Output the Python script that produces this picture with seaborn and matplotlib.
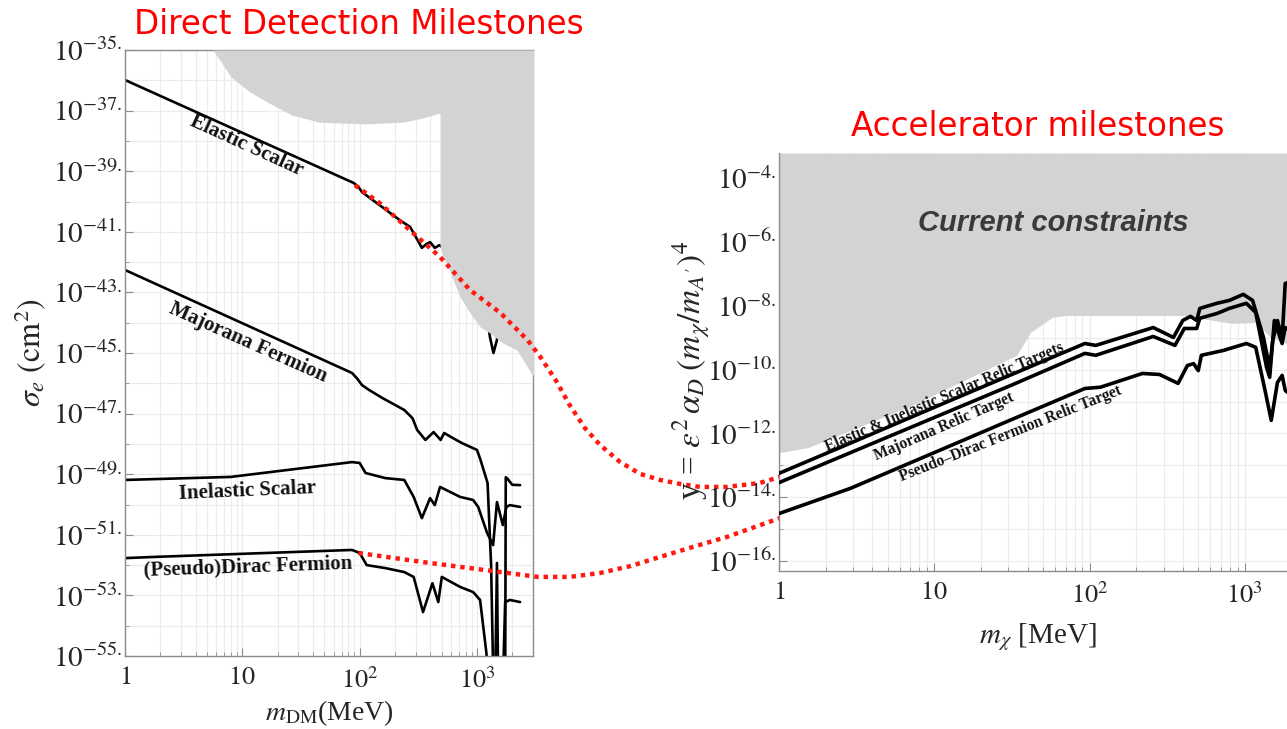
import numpy as np
import matplotlib
matplotlib.use("Agg")
import matplotlib.pyplot as plt
from matplotlib.ticker import FixedLocator, NullFormatter
import seaborn as sns

# ---------------- data (log10 values) ----------------
# Left panel: direct detection, log10(m_DM / MeV) and log10(sigma_e / cm^2)
dd_elastic_logm = [0, 1.95, 1.99, 2.02, 2.10, 2.17, 2.34, 2.43, 2.47, 2.53, 2.57, 2.60, 2.64, 2.68, 2.86, 2.98, 3.05, 3.09, 3.11, 3.14, 3.17, 3.20, 3.30]
dd_elastic_logs = [-35.99, -39.39, -39.52, -39.69, -39.92, -40.12, -40.61, -40.84, -41.11, -41.53, -41.40, -41.34, -41.53, -41.44, -42.0, -42.2, -42.9, -43.9, -44.47, -45.0, -44.57, -43.0, -42.5]

dd_major_logm = [0, 1.935, 1.98, 2.02, 2.08, 2.20, 2.38, 2.45, 2.49, 2.56, 2.63, 2.69, 2.72, 2.80, 2.87, 3.0, 3.03, 3.09, 3.12, 3.14, 3.20, 3.24, 3.245, 3.26, 3.30, 3.367]
dd_major_logs = [-42.26, -45.66, -45.85, -46.06, -46.22, -46.50, -46.88, -47.15, -47.54, -47.87, -47.61, -47.87, -47.64, -47.82, -47.97, -48.20, -48.53, -49.29, -52.0, -56.0, -56.0, -56.0, -49.1, -49.15, -49.35, -49.36]

dd_inel_logm = [0, 0.90, 1.935, 2.0, 2.05, 2.22, 2.38, 2.46, 2.53, 2.60, 2.64, 2.685, 2.856, 2.967, 3.01, 3.086, 3.137, 3.17, 3.22, 3.25, 3.28, 3.367]
dd_inel_logs = [-49.19, -49.09, -48.60, -48.63, -48.96, -49.13, -49.19, -49.75, -50.45, -49.79, -50.02, -49.42, -49.75, -49.85, -50.08, -50.94, -51.34, -49.92, -50.68, -50.08, -50.02, -50.08]

dd_dirac_logm = [0, 0.25, 1.935, 2.0, 2.06, 2.22, 2.38, 2.46, 2.54, 2.62, 2.67, 2.70, 2.856, 2.967, 3.026, 3.08, 3.10, 3.154, 3.17, 3.18, 3.22, 3.24, 3.28, 3.367]
dd_dirac_logs = [-51.77, -51.73, -51.50, -51.60, -52.0, -52.1, -52.23, -52.39, -53.55, -52.6, -53.22, -52.39, -52.72, -52.89, -53.15, -54.9, -56, -56, -51.93, -56, -56, -53.22, -53.15, -53.22]

dd_gray_logm = [0.75, 0.904, 1.066, 1.228, 1.424, 1.654, 2.046, 2.378, 2.54, 2.685, 2.685, 2.71, 2.754, 2.796, 2.856, 2.924, 3.026, 3.11, 3.22, 3.34, 3.43, 3.46, 3.50]
dd_gray_logs = [-35.0, -35.89, -36.39, -36.75, -37.15, -37.38, -37.44, -37.38, -37.24, -37.08, -41.50, -41.83, -42.16, -42.59, -43.15, -43.58, -44.14, -44.34, -44.67, -44.90, -45.46, -45.66, -45.8]

# Right panel: accelerator, log10(m_chi / MeV) and log10(y)
acc_gray_logm = [0, 0.084, 0.187, 0.856, 1.53, 1.62, 1.76, 1.85, 2.40, 2.60, 2.80, 2.92, 3.08, 3.14, 3.17, 3.27, 3.35]
acc_gray_logy = [-12.60, -12.53, -12.44, -11.12, -9.55, -8.83, -8.36, -8.30, -8.30, -8.30, -8.46, -8.55, -8.52, -8.87, -8.99, -9.18, -9.2]

acc_el_logm = [0, 0.5, 1.0, 1.5, 1.97, 2.04, 2.41, 2.54, 2.60, 2.65, 2.69, 2.71, 2.82, 2.90, 2.99, 3.05, 3.12, 3.16, 3.18, 3.21, 3.24, 3.26, 3.32]
acc_el_logy = [-13.25, -12.22, -11.18, -10.15, -9.18, -9.24, -8.68, -8.99, -8.46, -8.33, -8.46, -8.08, -7.92, -7.83, -7.64, -7.83, -8.99, -9.96, -9.08, -8.46, -9.02, -7.30, -7.2]

acc_maj_logm = [0, 0.5, 1.0, 1.5, 1.97, 2.04, 2.41, 2.55, 2.61, 2.69, 2.71, 2.82, 2.90, 3.01, 3.07, 3.14, 3.16, 3.19, 3.24, 3.26, 3.32]
acc_maj_logy = [-13.54, -12.52, -11.50, -10.48, -9.49, -9.55, -8.96, -9.24, -8.71, -8.71, -8.39, -8.24, -8.08, -7.92, -8.21, -9.93, -10.24, -8.46, -9.18, -8.68, -8.9]

acc_dir_logm = [0, 0.46, 1.0, 1.5, 1.97, 2.07, 2.34, 2.45, 2.57, 2.63, 2.67, 2.70, 2.72, 2.86, 3.01, 3.07, 3.13, 3.17, 3.21, 3.24, 3.26, 3.32]
acc_dir_logy = [-14.51, -13.72, -12.60, -11.56, -10.59, -10.55, -10.12, -10.15, -10.43, -9.87, -9.81, -10.03, -9.55, -9.40, -9.18, -9.30, -10.65, -11.59, -10.40, -10.18, -10.65, -10.9]

# Red dotted connectors (in left-panel data coordinates, extending beyond it)
conn_top_logm = [1.96, 2.17, 2.455, 2.685, 2.94, 3.20, 3.43, 3.54, 3.67, 3.79, 3.92, 4.05, 4.22, 4.39, 4.56, 4.73, 4.90, 5.13, 5.41, 5.58]
conn_top_logs = [-39.46, -40.05, -41.04, -41.83, -42.92, -43.68, -44.57, -45.13, -45.89, -46.72, -47.48, -48.04, -48.60, -48.99, -49.19, -49.32, -49.42, -49.42, -49.29, -49.09]
conn_bot_logm = [1.99, 2.54, 3.20, 3.52, 3.79, 4.05, 4.31, 4.56, 4.84, 5.13, 5.37, 5.58]
conn_bot_logs = [-51.60, -51.90, -52.23, -52.39, -52.39, -52.26, -52.03, -51.73, -51.40, -51.07, -50.74, -50.45]

dd_yticks_exp = [-35, -37, -39, -41, -43, -45, -47, -49, -51, -53, -55]
acc_yticks_exp = [-4, -6, -8, -10, -12, -14, -16]
xticks_vals = [1, 10, 100, 1000]
xtick_labels = ["$1$", "$10$", "$10^{2}$", "$10^{3}$"]

# ---------------- style ----------------
sns.set_theme(style="white")
plt.rcParams["font.family"] = ["Liberation Serif", "DejaVu Serif"]
plt.rcParams["mathtext.fontset"] = "stix"

W, H = 1287, 729
fig = plt.figure(figsize=(W / 100, H / 100), dpi=100)
fig.patch.set_facecolor("white")

GRAY = "#d3d3d3"
GRID = "#ebebeb"
SPINE = "#8c8c8c"
RED = "#ff1a10"

def p10(a):
    return 10.0 ** np.asarray(a, dtype=float)

def style_axes(ax, yexps, ylabel_size=21):
    ax.set_xscale("log")
    ax.set_yscale("log")
    ax.set_facecolor("white")
    ax.set_xticks(xticks_vals)
    ax.set_xticklabels(xtick_labels, fontsize=19)
    minor_x = [k * 10.0 ** d for d in range(0, 4) for k in range(2, 10)]
    ax.xaxis.set_minor_locator(FixedLocator(minor_x))
    ax.xaxis.set_minor_formatter(NullFormatter())
    ax.set_yticks(p10(yexps))
    ax.set_yticklabels([rf"$10^{{{e}.}}$" for e in yexps], fontsize=ylabel_size)
    minor_y = p10([e - 1 for e in yexps])
    ax.yaxis.set_minor_locator(FixedLocator(minor_y))
    ax.yaxis.set_minor_formatter(NullFormatter())
    ax.tick_params(which="major", direction="in", length=6, width=0.8, color=SPINE,
                   bottom=True, left=True, top=False, right=False)
    ax.tick_params(which="minor", direction="in", length=3, width=0.6, color=SPINE,
                   bottom=True, left=True, top=False, right=False)
    ax.tick_params(axis="x", which="major", pad=8)
    ax.tick_params(axis="y", which="major", pad=2)
    ax.grid(True, which="both", color=GRID, lw=0.8)
    ax.set_axisbelow(True)
    for s in ax.spines.values():
        s.set_color(SPINE)
        s.set_linewidth(1.0)

# ---------------- left panel ----------------
axL = fig.add_axes([125 / W, 1 - 656 / H, 408 / W, 606 / H])
style_axes(axL, dd_yticks_exp)
axL.set_xlim(1, 3000)
axL.set_ylim(1e-55, 1e-35)

for lm, ls in [(dd_elastic_logm, dd_elastic_logs), (dd_major_logm, dd_major_logs),
               (dd_inel_logm, dd_inel_logs), (dd_dirac_logm, dd_dirac_logs)]:
    sns.lineplot(x=p10(lm), y=p10(ls), ax=axL, color="black", lw=1.9,
                 sort=False, estimator=None, zorder=2)

axL.fill_between(p10(dd_gray_logm), p10(dd_gray_logs), 1e-35, color=GRAY, lw=0, zorder=3)

lab_kw = dict(fontsize=15, fontweight="bold", color="#111111", ha="center", va="center",
              rotation_mode="anchor", zorder=5)
axL.text(p10(1.04), p10(-38.17), "Elastic Scalar", rotation=-24.5, **lab_kw)
axL.text(p10(1.05), p10(-44.67), "Majorana Fermion", rotation=-24, **lab_kw)
axL.text(p10(1.04), p10(-49.55), "Inelastic Scalar", rotation=2.5, **lab_kw)
axL.text(p10(1.05), p10(-52.06), "(Pseudo)Dirac Fermion", rotation=2, **lab_kw)

axL.set_xlabel(r"$m_{\rm DM}$(MeV)", fontsize=20, va="center")
axL.xaxis.set_label_coords(0.5, (656 - 713) / 606)
axL.set_ylabel(r"$\sigma_e\ (\mathrm{cm}^2)$", fontsize=23, va="center", ha="center")
axL.yaxis.set_label_coords((31 - 125) / 408, 0.5)

# ---------------- right panel ----------------
axR = fig.add_axes([779 / W, 1 - 571 / H, 516 / W, 418 / H])
style_axes(axR, acc_yticks_exp)
axR.set_xlim(1, p10(3.323))
axR.set_ylim(p10(-16.31), p10(-3.21))
axR.spines["top"].set_visible(False)
axR.spines["right"].set_visible(False)

axR.fill_between(p10(acc_gray_logm), p10(acc_gray_logy), p10(-3.21), color=GRAY, lw=0, zorder=1.5)
for lm, ly in [(acc_el_logm, acc_el_logy), (acc_maj_logm, acc_maj_logy), (acc_dir_logm, acc_dir_logy)]:
    sns.lineplot(x=p10(lm), y=p10(ly), ax=axR, color="black", lw=2.6,
                 sort=False, estimator=None, zorder=3)

rk = dict(fontsize=11.2, fontweight="bold", color="#111111", ha="center", va="center",
          rotation_mode="anchor", zorder=5)
axR.text(p10(1.069), p10(-10.87), "Elastic & Inelastic Scalar Relic Targets", rotation=23, **rk)
axR.text(p10(1.062), p10(-11.78), "Majorana Relic Target", rotation=23.4, **rk)
axR.text(p10(1.494), p10(-12.0), "Pseudo\u2013Dirac Fermion Relic Target", rotation=21.6, **rk)
axR.text(p10(1.764), p10(-5.39), "Current constraints", fontsize=21, fontweight="bold",
         fontstyle="italic", family=["Liberation Sans", "DejaVu Sans"], color="#3a3a3a",
         ha="center", va="center", zorder=5)

axR.set_xlabel(r"$m_\chi$ [MeV]", fontsize=21, va="center")
axR.xaxis.set_label_coords((1038 - 779) / 516, (571 - 637) / 418)
axR.set_ylabel(r"y = $\epsilon^2\,\alpha_D\;(m_\chi/m_{A^\prime})^4$", fontsize=24,
               va="center", ha="center")
axR.yaxis.set_label_coords((692 - 779) / 516, (571 - 370) / 418)

# ---------------- connectors ----------------
for lm, ls in [(conn_top_logm, conn_top_logs), (conn_bot_logm, conn_bot_logs)]:
    axL.plot(p10(lm), p10(ls), color=RED, lw=3.2, linestyle=(0, (1, 1.1)),
             dash_capstyle="butt", clip_on=False, zorder=10)

# ---------------- titles ----------------
fig.text(359 / W, 1 - 25 / H, "Direct Detection Milestones", color="#ff0000", fontsize=23.5,
         family=["DejaVu Sans"], ha="center", va="center")
fig.text(1038 / W, 1 - 127 / H, "Accelerator milestones", color="#ff0000", fontsize=23.5,
         family=["DejaVu Sans"], ha="center", va="center")

fig.savefig("out.png", dpi=100, facecolor="white")
